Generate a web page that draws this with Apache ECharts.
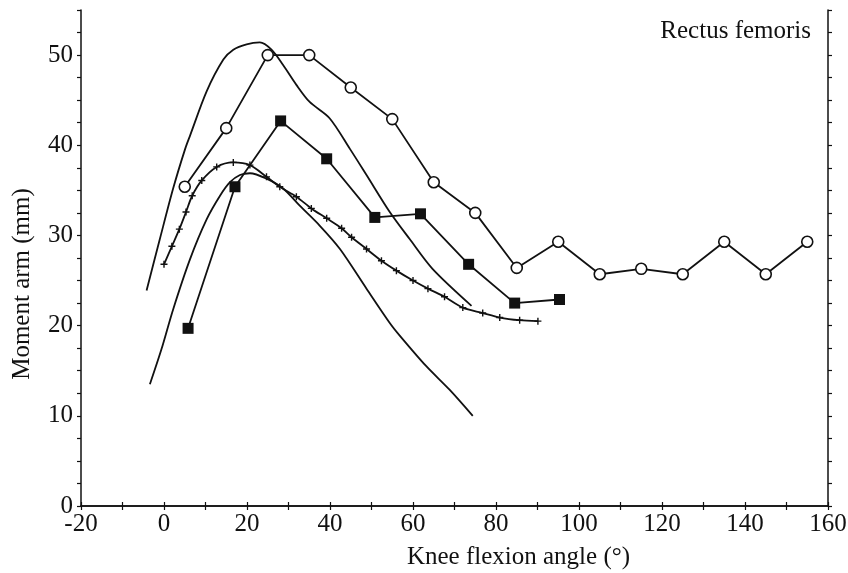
<!DOCTYPE html>
<html>
<head>
<meta charset="utf-8">
<script src="https://cdn.jsdelivr.net/npm/echarts@6/dist/echarts.min.js"></script>
<style>html,body{margin:0;padding:0;background:#fff;}#c{width:848px;height:573px;}</style>
</head>
<body>
<div id="c"></div>
<script>
// Open circles
const circleX = [5, 15, 25, 35, 45, 55, 65, 75, 85, 95, 105, 115, 125, 135, 145, 155];
const circleY = [35.4, 41.9, 50.0, 50.0, 46.4, 42.9, 35.9, 32.5, 26.4, 29.3, 25.7, 26.3, 25.7, 29.3, 25.7, 29.3];
// Filled squares
const squareX = [5.8, 17.1, 28.1, 39.2, 50.8, 61.8, 73.4, 84.5, 95.3];
const squareY = [19.7, 35.4, 42.7, 38.5, 32.0, 32.4, 26.8, 22.5, 22.9];
// Plus-marker curve
const plusX = [0, 1.9, 3.7, 5.3, 6.8, 9.1, 12.7, 16.7, 20.7, 24.7, 27.9, 31.9, 35.5, 39.2, 42.8, 45.2, 48.8, 52.4, 56.0, 60.0, 63.6, 67.6, 72.0, 76.8, 80.9, 85.7, 90.1];
const plusY = [26.8, 28.8, 30.7, 32.6, 34.4, 36.1, 37.6, 38.1, 37.8, 36.5, 35.4, 34.3, 33.0, 31.9, 30.8, 29.8, 28.5, 27.2, 26.1, 25.0, 24.1, 23.2, 22.0, 21.4, 20.9, 20.6, 20.5];
// Upper solid curve
const upperX = [-4.2, -1.0, 2.2, 5.1, 6.3, 10.3, 14.3, 16.7, 19.9, 23.1, 25.9, 28.7, 31.9, 35.1, 39.9, 44.8, 48.8, 54.4, 59.2, 64.7, 74.1];
const upperY = [23.9, 29.6, 35.2, 39.6, 41.1, 46.0, 49.5, 50.6, 51.2, 51.4, 50.6, 48.9, 46.7, 44.8, 43.0, 39.6, 36.7, 32.6, 29.6, 26.3, 22.2];
// Lower solid curve
const lowerX = [-3.4, -0.6, 2.2, 6.3, 10.3, 13.5, 15.9, 18.3, 20.7, 24.7, 28.7, 32.7, 37.5, 42.4, 48.8, 54.4, 56.8, 63.2, 68.8, 74.4];
const lowerY = [13.5, 17.4, 21.8, 27.4, 31.8, 34.4, 35.9, 36.7, 36.9, 36.3, 35.2, 33.3, 31.1, 28.5, 24.1, 20.3, 18.9, 15.5, 12.9, 10.0];

const titleText = 'Rectus femoris';
const xName = 'Knee flexion angle (°)';
const yName = 'Moment arm (mm)';

const zip = (a, b) => a.map((v, i) => [v, b[i]]);
const FONT = "'Liberation Serif', 'Times New Roman', serif";
const INK = '#111';

const chart = echarts.init(document.getElementById('c'), null, {renderer: 'canvas'});

const baseX = {
  type: 'value', min: -20, max: 160, interval: 20,
  axisLine: {show: true, lineStyle: {color: INK, width: 1.5}},
  axisTick: {show: true, inside: false, length: 4, lineStyle: {color: INK, width: 1.2}},
  minorTick: {show: true, splitNumber: 2, length: 4, lineStyle: {color: INK, width: 1.2}},
  splitLine: {show: false}, minorSplitLine: {show: false}
};
const baseY = {
  type: 'value', min: 0, max: 55, interval: 5,
  axisLine: {show: true, onZero: false, lineStyle: {color: INK, width: 1.5}},
  axisTick: {show: true, inside: false, length: 4, lineStyle: {color: INK, width: 1.2}},
  minorTick: {show: true, splitNumber: 2, length: 4, lineStyle: {color: INK, width: 1.2}},
  splitLine: {show: false}, minorSplitLine: {show: false}
};

chart.setOption({
  animation: false,
  backgroundColor: '#fff',
  title: {
    text: titleText, right: 32, top: 14,
    textStyle: {fontFamily: FONT, fontSize: 25, fontWeight: 'normal', color: INK}
  },
  grid: {left: 81, right: 20, top: 10, bottom: 67, containLabel: false, outerBoundsMode: 'none'},
  xAxis: [
    Object.assign({}, baseX, {
      position: 'bottom',
      name: xName, nameLocation: 'middle', nameGap: 39,
      nameTextStyle: {fontFamily: FONT, fontSize: 25, color: INK, padding: [0, 0, 0, 128]},
      axisLabel: {show: true, margin: 6, fontFamily: FONT, fontSize: 25, color: INK}
    }),
    Object.assign({}, baseX, {position: 'top', axisLabel: {show: false}})
  ],
  yAxis: [
    Object.assign({}, baseY, {
      position: 'left',
      name: yName, nameLocation: 'middle', nameGap: 46, nameRotate: 90,
      nameTextStyle: {fontFamily: FONT, fontSize: 25, color: INK, padding: [0, 52, 0, 0]},
      axisLabel: {
        show: true, margin: 8, fontFamily: FONT, fontSize: 25, color: INK,
        formatter: v => (v % 10 === 0 ? String(v) : '')
      }
    }),
    Object.assign({}, baseY, {position: 'right', axisLabel: {show: false}})
  ],
  series: [
    {
      type: 'line', data: zip(upperX, upperY), smooth: 0.3, showSymbol: false,
      lineStyle: {color: INK, width: 1.8}, z: 2
    },
    {
      type: 'line', data: zip(lowerX, lowerY), smooth: 0.3, showSymbol: false,
      lineStyle: {color: INK, width: 1.8}, z: 2
    },
    {
      type: 'line', data: zip(plusX, plusY), smooth: 0.3, showAllSymbol: true,
      symbol: 'path://M4,0H6V4H10V6H6V10H4V6H0V4H4Z', symbolSize: 7,
      itemStyle: {color: INK}, lineStyle: {color: INK, width: 1.8}, z: 3
    },
    {
      type: 'line', data: zip(squareX, squareY), showAllSymbol: true,
      symbol: 'rect', symbolSize: 11,
      itemStyle: {color: INK}, lineStyle: {color: INK, width: 1.8}, z: 4
    },
    {
      type: 'line', data: zip(circleX, circleY), showAllSymbol: true,
      symbol: 'circle', symbolSize: 11,
      itemStyle: {color: '#fff', borderColor: INK, borderWidth: 1.6},
      lineStyle: {color: INK, width: 1.8}, z: 5
    }
  ]
});
</script>
</body>
</html>
